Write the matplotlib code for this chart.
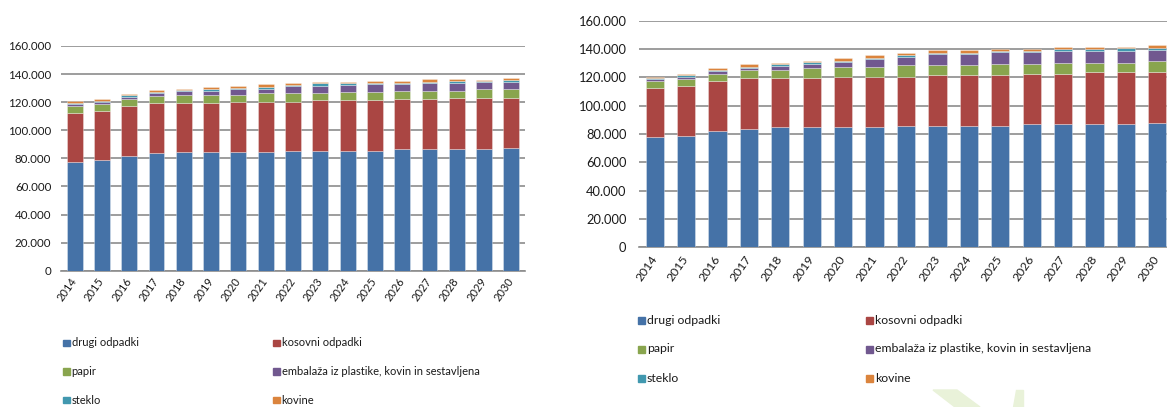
import matplotlib
matplotlib.use("Agg")
import matplotlib.pyplot as plt
from matplotlib.patches import Rectangle, Polygon
from matplotlib.ticker import FuncFormatter
import numpy as np

plt.rcParams['font.family'] = ['Lato', 'DejaVu Sans']

years = [str(y) for y in range(2014, 2031)]

# first scenario (left chart), tonnes / 1000
drugi_odpadki_1 = [77.7, 78.9, 81.7, 83.6, 84.6, 84.6, 84.6, 84.6, 85.5, 85.5,
                   85.5, 85.5, 86.5, 86.5, 86.5, 86.5, 87.6]
kosovni_odpadki_1 = [34.9, 34.6, 35.9, 35.9, 34.9, 34.9, 35.8, 35.8, 34.9, 35.9,
                     35.9, 35.9, 35.8, 35.8, 36.8, 36.8, 35.7]
papir_1 = [5.0, 5.5, 4.7, 5.0, 5.9, 5.9, 5.0, 6.0, 6.0, 5.0,
           5.9, 5.9, 6.0, 6.0, 5.0, 5.9, 5.9]
embalaza_1 = [1.2, 1.4, 1.7, 1.9, 2.4, 2.6, 3.8, 3.1, 5.2, 5.2,
              5.0, 5.7, 4.7, 5.2, 5.2, 5.0, 5.0]
steklo_1 = [0.7, 0.7, 0.9, 0.9, 0.9, 1.2, 1.2, 1.1, 0.7, 1.9,
            1.0, 0.7, 1.0, 0.9, 1.7, 0.7, 1.4]
kovine_1 = [1.2, 1.2, 1.0, 1.2, 0.8, 1.4, 1.2, 2.2, 1.4, 0.9,
            0.9, 1.7, 1.2, 1.9, 1.1, 1.0, 1.5]

# second scenario (right chart), tonnes / 1000
drugi_odpadki_2 = [77.6, 78.8, 81.9, 83.8, 84.7, 84.7, 84.7, 84.7, 85.9, 85.9,
                   85.9, 85.9, 86.8, 86.8, 86.8, 86.8, 88.0]
kosovni_odpadki_2 = [35.0, 34.9, 35.6, 35.8, 34.9, 34.9, 35.9, 35.9, 34.7, 35.9,
                     35.9, 35.9, 35.9, 35.9, 36.9, 36.9, 35.7]
papir_2 = [4.9, 5.5, 5.2, 5.9, 5.7, 6.9, 6.8, 6.8, 8.0, 6.8,
           6.8, 7.8, 6.9, 7.8, 6.8, 6.8, 7.7]
embalaza_2 = [1.4, 1.4, 1.7, 1.0, 3.1, 3.3, 3.4, 5.7, 6.2, 7.8,
              7.8, 8.2, 8.2, 8.3, 8.3, 8.3, 8.3]
steklo_2 = [0.7, 0.9, 1.1, 1.2, 1.2, 1.0, 1.1, 0.9, 0.9, 1.2,
            1.2, 1.2, 1.0, 1.2, 1.2, 1.9, 1.2]
kovine_2 = [1.0, 1.2, 1.0, 1.6, 0.9, 0.7, 1.7, 1.7, 1.9, 2.1,
            2.1, 1.4, 1.6, 1.6, 1.6, 0.9, 1.9]

series_names = ["drugi odpadki", "kosovni odpadki", "papir",
                "embalaža iz plastike, kovin in sestavljena", "steklo", "kovine"]
scenario_1 = [drugi_odpadki_1, kosovni_odpadki_1, papir_1, embalaza_1, steklo_1, kovine_1]
scenario_2 = [drugi_odpadki_2, kosovni_odpadki_2, papir_2, embalaza_2, steklo_2, kovine_2]
colors = ["#4572A7", "#AA4643", "#89A54E", "#71588F", "#4198AF", "#DB843D"]

y_ticks = list(range(0, 160001, 20000))

W, H = 1167, 407
fig = plt.figure(figsize=(W / 100, H / 100), dpi=100)


def thousands(v, _pos):
    return f"{int(v):,}".replace(",", ".")


def draw_chart(rect, series_values, tick_fs, year_fs, ypad, xpad):
    ax = fig.add_axes(rect)
    x = np.arange(len(years))
    bottom = np.zeros(len(years))
    for vals, col in zip(series_values, colors):
        v = np.array(vals) * 1000
        ax.bar(x, v, bottom=bottom, width=0.58, color=col,
               edgecolor=(1, 1, 1, 0.45), linewidth=0.5, zorder=3)
        bottom += v
    ax.set_xlim(-0.5, len(years) - 0.5)
    ax.set_ylim(0, 160000)
    ax.set_yticks(y_ticks)
    ax.yaxis.set_major_formatter(FuncFormatter(thousands))
    ax.grid(axis='y', color='#8c8c8c', linewidth=1.2, zorder=0)
    for s in ['top', 'right', 'left']:
        ax.spines[s].set_visible(False)
    ax.spines['bottom'].set_color('#8c8c8c')
    ax.spines['bottom'].set_linewidth(1.2)
    ax.tick_params(axis='y', length=0, pad=ypad, labelsize=tick_fs,
                   labelcolor='#1a1a1a')
    ax.tick_params(axis='x', length=0, pad=xpad, labelsize=year_fs,
                   labelcolor='#1a1a1a')
    ax.set_xticks(x)
    ax.set_xticklabels(years, rotation=55, ha='right', va='center',
                       rotation_mode='anchor')
    return ax


def draw_legend(col_x, row_y, size, fs):
    for i, (name, col) in enumerate(zip(series_names, colors)):
        cx = col_x[i % 2]
        cy = row_y[i // 2]
        fig.patches.append(Rectangle((cx / W, (H - cy - size / 2) / H),
                                     size / W, size / H, color=col,
                                     transform=fig.transFigure, figure=fig))
        fig.text((cx + size + 2) / W, (H - cy) / H, name, fontsize=fs,
                 va='center', ha='left', color='#1a1a1a')


# left chart
draw_chart([61 / W, (H - 270.7) / H, 464 / W, 224.7 / H], scenario_1,
           tick_fs=8.3, year_fs=8.0, ypad=7, xpad=6)
draw_legend([63, 273], [343, 371.5, 400], 6.5, 8.0)

# right chart
draw_chart([639 / W, (H - 247) / H, 534 / W, 226 / H], scenario_2,
           tick_fs=9.3, year_fs=8.8, ypad=9, xpad=7)
draw_legend([638, 866], [320, 349, 378], 7, 8.8)

# faint leaf mark in the lower right corner
leaf = "#e9f2d9"
fig.patches.append(Polygon([(933 / W, (H - 390) / H), (957 / W, (H - 390) / H),
                            (980 / W, 0), (955 / W, 0)],
                           closed=True, color=leaf, transform=fig.transFigure,
                           figure=fig, zorder=0))
fig.patches.append(Polygon([(1016 / W, (H - 390) / H), (1023 / W, (H - 390) / H),
                            (1023 / W, 0), (1013 / W, 0)],
                           closed=True, color=leaf, transform=fig.transFigure,
                           figure=fig, zorder=0))

fig.savefig("out.png", dpi=100)
